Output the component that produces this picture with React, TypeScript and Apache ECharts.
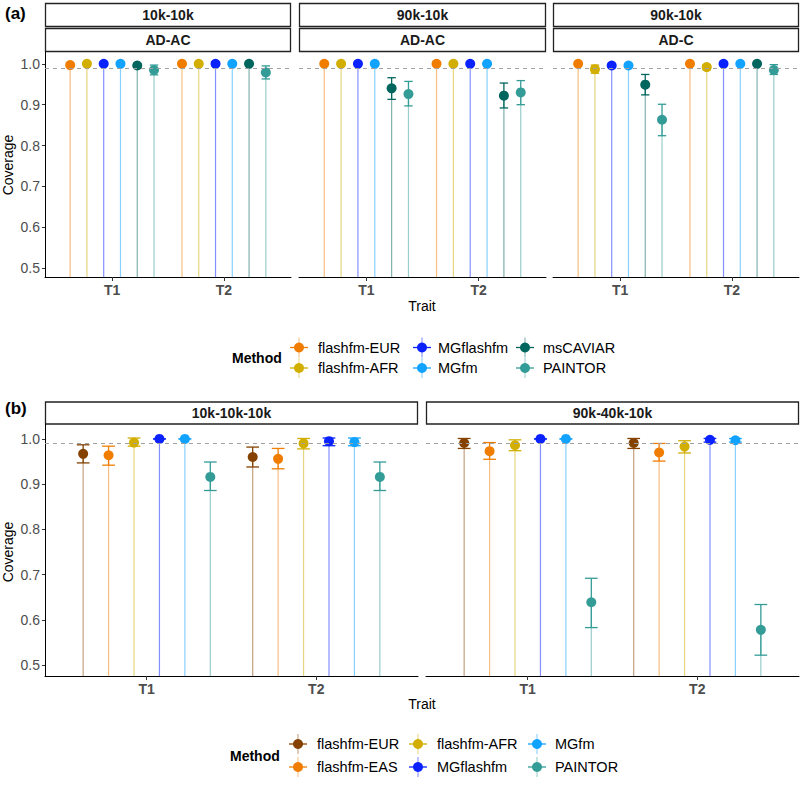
import React, { useEffect, useRef } from "react";
import * as echarts from "echarts";

// ---------- data ----------
const traits = ["T1", "T2"];
const traitPos = [1, 2];
const dodgeStep = 0.15;
const refLine = 0.99;
const yTicks = [0.5, 0.6, 0.7, 0.8, 0.9, 1.0];

const methodsA = ["flashfm-EUR", "flashfm-AFR", "MGflashfm", "MGfm", "msCAVIAR", "PAINTOR"];
const colorsA = ["#F07D00", "#D1AE00", "#0A22FF", "#12A2FF", "#00665E", "#349C97"];
const methodsB = ["flashfm-EUR", "flashfm-EAS", "flashfm-AFR", "MGflashfm", "MGfm", "PAINTOR"];
const colorsB = ["#844100", "#F07D00", "#D1AE00", "#0A22FF", "#12A2FF", "#349C97"];

const stripsA = [["10k-10k", "AD-AC"], ["90k-10k", "AD-AC"], ["90k-10k", "AD-C"]];
const stripsB = ["10k-10k-10k", "90k-40k-10k"];

// [method][trait]
const a1Cov = [[0.997, 1.0], [1.0, 1.0], [1.0, 1.0], [1.0, 1.0], [0.996, 1.0], [0.985, 0.979]];
const a1Lo = [[0.994, 1.0], [1.0, 1.0], [1.0, 1.0], [1.0, 1.0], [0.992, 1.0], [0.973, 0.963]];
const a1Hi = [[1.0, 1.0], [1.0, 1.0], [1.0, 1.0], [1.0, 1.0], [1.0, 1.0], [0.997, 0.995]];

const a2Cov = [[1.0, 1.0], [1.0, 1.0], [1.0, 1.0], [1.0, 1.0], [0.94, 0.922], [0.926, 0.93]];
const a2Lo = [[1.0, 1.0], [1.0, 1.0], [1.0, 1.0], [1.0, 1.0], [0.913, 0.892], [0.897, 0.9]];
const a2Hi = [[1.0, 1.0], [1.0, 1.0], [1.0, 1.0], [1.0, 1.0], [0.966, 0.953], [0.957, 0.959]];

const a3Cov = [[1.0, 1.0], [0.987, 0.992], [0.996, 1.0], [0.996, 1.0], [0.949, 1.0], [0.863, 0.985]];
const a3Lo = [[1.0, 1.0], [0.977, 0.985], [0.993, 1.0], [0.993, 1.0], [0.924, 1.0], [0.824, 0.974]];
const a3Hi = [[1.0, 1.0], [0.997, 0.998], [0.999, 1.0], [0.999, 1.0], [0.974, 1.0], [0.901, 0.998]];

const b1Cov = [[0.967, 0.96], [0.964, 0.956], [0.992, 0.99], [1.0, 0.995], [1.0, 0.993], [0.916, 0.916]];
const b1Lo = [[0.947, 0.938], [0.942, 0.934], [0.984, 0.978], [1.0, 0.985], [1.0, 0.985], [0.886, 0.886]];
const b1Hi = [[0.987, 0.982], [0.984, 0.979], [1.002, 1.001], [1.0, 1.002], [1.0, 1.002], [0.949, 0.949]];

const b2Cov = [[0.991, 0.991], [0.973, 0.97], [0.986, 0.983], [1.0, 0.998], [1.0, 0.997], [0.639, 0.578]];
const b2Lo = [[0.979, 0.979], [0.955, 0.951], [0.974, 0.969], [1.0, 0.993], [1.0, 0.993], [0.583, 0.522]];
const b2Hi = [[1.001, 1.001], [0.992, 0.99], [0.998, 0.996], [1.0, 1.001], [1.0, 1.001], [0.692, 0.634]];

const yRangeA = [0.478, 1.029];
const yRangeB = [0.476, 1.033];

// ---------- layout ----------
const gridsA = [
  { left: 45, top: 52, width: 246, height: 225 },
  { left: 299, top: 52, width: 247, height: 225 },
  { left: 553, top: 52, width: 246, height: 225 },
];
const gridsB = [
  { left: 45, top: 424, width: 373, height: 252 },
  { left: 426, top: 424, width: 373, height: 252 },
];

const FONT = "'Liberation Sans', Arial, Helvetica, sans-serif";

function buildData(cov: number[][], lo: number[][], hi: number[][]) {
  const out: number[][] = [];
  cov.forEach((row, m) => {
    row.forEach((v, t) => {
      out.push([traitPos[t] + (m - (cov.length - 1) / 2) * dodgeStep, v, lo[m][t], hi[m][t], m]);
    });
  });
  return out;
}

function makeRender(colors: string[]) {
  return (params: any, api: any) => {
    const x = api.value(0);
    const v = api.value(1);
    const lo = api.value(2);
    const hi = api.value(3);
    const m = api.value(4);
    const c = colors[m];
    const cs = params.coordSys;
    const bottom = cs.y + cs.height;
    const p = api.coord([x, v]);
    const pl = api.coord([x, lo]);
    const ph = api.coord([x, hi]);
    const capL = api.coord([x - 0.0375, lo]);
    const capR = api.coord([x + 0.0375, lo]);
    const half = (capR[0] - capL[0]) / 2;
    return {
      type: "group",
      children: [
        {
          type: "line",
          shape: { x1: p[0], y1: bottom, x2: p[0], y2: p[1] },
          style: { stroke: c, lineWidth: 1.2, opacity: 0.5 },
        },
        {
          type: "line",
          shape: { x1: p[0], y1: pl[1], x2: p[0], y2: ph[1] },
          style: { stroke: c, lineWidth: 1.3 },
        },
        {
          type: "line",
          shape: { x1: p[0] - half, y1: pl[1], x2: p[0] + half, y2: pl[1] },
          style: { stroke: c, lineWidth: 1.3 },
        },
        {
          type: "line",
          shape: { x1: p[0] - half, y1: ph[1], x2: p[0] + half, y2: ph[1] },
          style: { stroke: c, lineWidth: 1.3 },
        },
        {
          type: "circle",
          shape: { cx: p[0], cy: p[1], r: 5 },
          style: { fill: c },
        },
      ],
    };
  };
}

function legendItems(methods: string[], colors: string[], symX: number[], textX: number[], rowY: number[]) {
  const els: any[] = [];
  methods.forEach((name, i) => {
    const col = Math.floor(i / 2);
    const row = i % 2;
    const cx = symX[col];
    const cy = rowY[row];
    const c = colors[i];
    els.push({
      type: "line",
      shape: { x1: cx, y1: cy - 10, x2: cx, y2: cy + 10 },
      style: { stroke: c, lineWidth: 1.2, opacity: 0.45 },
    });
    els.push({
      type: "line",
      shape: { x1: cx - 9, y1: cy, x2: cx + 9, y2: cy },
      style: { stroke: c, lineWidth: 1.3 },
    });
    els.push({ type: "circle", shape: { cx, cy, r: 5 }, style: { fill: c } });
    els.push({
      type: "text",
      x: textX[col],
      y: cy,
      style: { text: name, font: `14.5px ${FONT}`, fill: "#000", textAlign: "left", textVerticalAlign: "middle" },
    });
  });
  return els;
}

export default function App() {
  const ref = useRef<HTMLDivElement>(null);
  useEffect(() => {
    document.body.style.margin = "0";
    if (!ref.current) return;
    const chart = echarts.init(ref.current, undefined, { renderer: "svg" });

    const allGrids = [...gridsA, ...gridsB];
    const facetData = [
      { cov: a1Cov, lo: a1Lo, hi: a1Hi, colors: colorsA, yr: yRangeA },
      { cov: a2Cov, lo: a2Lo, hi: a2Hi, colors: colorsA, yr: yRangeA },
      { cov: a3Cov, lo: a3Lo, hi: a3Hi, colors: colorsA, yr: yRangeA },
      { cov: b1Cov, lo: b1Lo, hi: b1Hi, colors: colorsB, yr: yRangeB },
      { cov: b2Cov, lo: b2Lo, hi: b2Hi, colors: colorsB, yr: yRangeB },
    ];
    const showY = [true, false, false, true, false];

    const xAxis = allGrids.map((_, i) => ({
      type: "value",
      gridIndex: i,
      min: 0.4,
      max: 2.6,
      splitLine: { show: false },
      axisLine: { show: true, lineStyle: { color: "#000", width: 1 } },
      axisTick: { show: true, customValues: traitPos, length: 4, lineStyle: { color: "#333" } },
      axisLabel: {
        show: true,
        customValues: traitPos,
        formatter: (v: number) => traits[traitPos.indexOf(v)] ?? "",
        color: "#4D4D4D",
        fontWeight: "bold",
        fontSize: 14,
        fontFamily: FONT,
        margin: 6,
      },
    }));
    const yAxis = allGrids.map((_, i) => ({
      type: "value",
      gridIndex: i,
      min: facetData[i].yr[0],
      max: facetData[i].yr[1],
      splitLine: { show: false },
      axisLine: { show: showY[i], lineStyle: { color: "#000", width: 1 } },
      axisTick: { show: showY[i], customValues: yTicks, length: 3, lineStyle: { color: "#333" } },
      axisLabel: {
        show: showY[i],
        customValues: yTicks,
        formatter: (v: number) => v.toFixed(1),
        color: "#4D4D4D",
        fontSize: 14,
        fontFamily: FONT,
        margin: 5,
      },
    }));

    const series: any[] = [];
    facetData.forEach((f, i) => {
      series.push({
        type: "line",
        xAxisIndex: i,
        yAxisIndex: i,
        data: [],
        z: 1,
        silent: true,
        markLine: {
          silent: true,
          symbol: "none",
          label: { show: false },
          lineStyle: { type: [4, 4], color: "#A0A0A0", width: 1 },
          data: [{ yAxis: refLine }],
        },
      });
      series.push({
        type: "custom",
        xAxisIndex: i,
        yAxisIndex: i,
        z: 2,
        clip: false,
        renderItem: makeRender(f.colors),
        data: buildData(f.cov, f.lo, f.hi),
      });
    });

    const graphic: any[] = [];
    // strips (a)
    gridsA.forEach((g, i) => {
      [0, 1].forEach((r) => {
        const y = r === 0 ? 3.5 : 28.5;
        graphic.push({
          type: "rect",
          shape: { x: g.left + 0.5, y, width: g.width - 1, height: 23 },
          style: { fill: "#fff", stroke: "#222", lineWidth: 1.3 },
        });
        graphic.push({
          type: "text",
          x: g.left + g.width / 2,
          y: y + 11.5,
          style: {
            text: stripsA[i][r],
            font: `bold 14px ${FONT}`,
            fill: "#1A1A1A",
            textAlign: "center",
            textVerticalAlign: "middle",
          },
        });
      });
    });
    // strips (b)
    gridsB.forEach((g, i) => {
      graphic.push({
        type: "rect",
        shape: { x: g.left + 0.5, y: 402, width: g.width - 1, height: 22 },
        style: { fill: "#fff", stroke: "#222", lineWidth: 1.3 },
      });
      graphic.push({
        type: "text",
        x: g.left + g.width / 2,
        y: 413,
        style: {
          text: stripsB[i],
          font: `bold 14px ${FONT}`,
          fill: "#1A1A1A",
          textAlign: "center",
          textVerticalAlign: "middle",
        },
      });
    });
    // panel tags
    graphic.push({
      type: "text",
      x: 5,
      y: 13,
      style: { text: "(a)", font: `bold 17px ${FONT}`, fill: "#000", textAlign: "left", textVerticalAlign: "middle" },
    });
    graphic.push({
      type: "text",
      x: 5,
      y: 408,
      style: { text: "(b)", font: `bold 17px ${FONT}`, fill: "#000", textAlign: "left", textVerticalAlign: "middle" },
    });
    // axis titles
    [165, 552].forEach((cy) => {
      graphic.push({
        type: "text",
        x: 8,
        y: cy,
        rotation: Math.PI / 2,
        style: { text: "Coverage", font: `14px ${FONT}`, fill: "#000", textAlign: "center", textVerticalAlign: "middle" },
      });
    });
    [306, 704].forEach((cy) => {
      graphic.push({
        type: "text",
        x: 422,
        y: cy,
        style: { text: "Trait", font: `14px ${FONT}`, fill: "#000", textAlign: "center", textVerticalAlign: "middle" },
      });
    });
    // legends
    graphic.push({
      type: "text",
      x: 232,
      y: 358,
      style: { text: "Method", font: `bold 14px ${FONT}`, fill: "#000", textAlign: "left", textVerticalAlign: "middle" },
    });
    graphic.push(...legendItems(methodsA, colorsA, [299, 422, 525], [318, 438, 543], [347.5, 368]));
    graphic.push({
      type: "text",
      x: 230,
      y: 756,
      style: { text: "Method", font: `bold 14px ${FONT}`, fill: "#000", textAlign: "left", textVerticalAlign: "middle" },
    });
    graphic.push(...legendItems(methodsB, colorsB, [298, 418, 537], [317, 437, 555], [744, 767]));

    chart.setOption({
      animation: false,
      backgroundColor: "#fff",
      grid: allGrids.map((g) => ({ ...g, containLabel: false })),
      xAxis,
      yAxis,
      series,
      graphic,
    });
    return () => chart.dispose();
  }, []);
  return <div ref={ref} style={{ width: 800, height: 785 }} />;
}
